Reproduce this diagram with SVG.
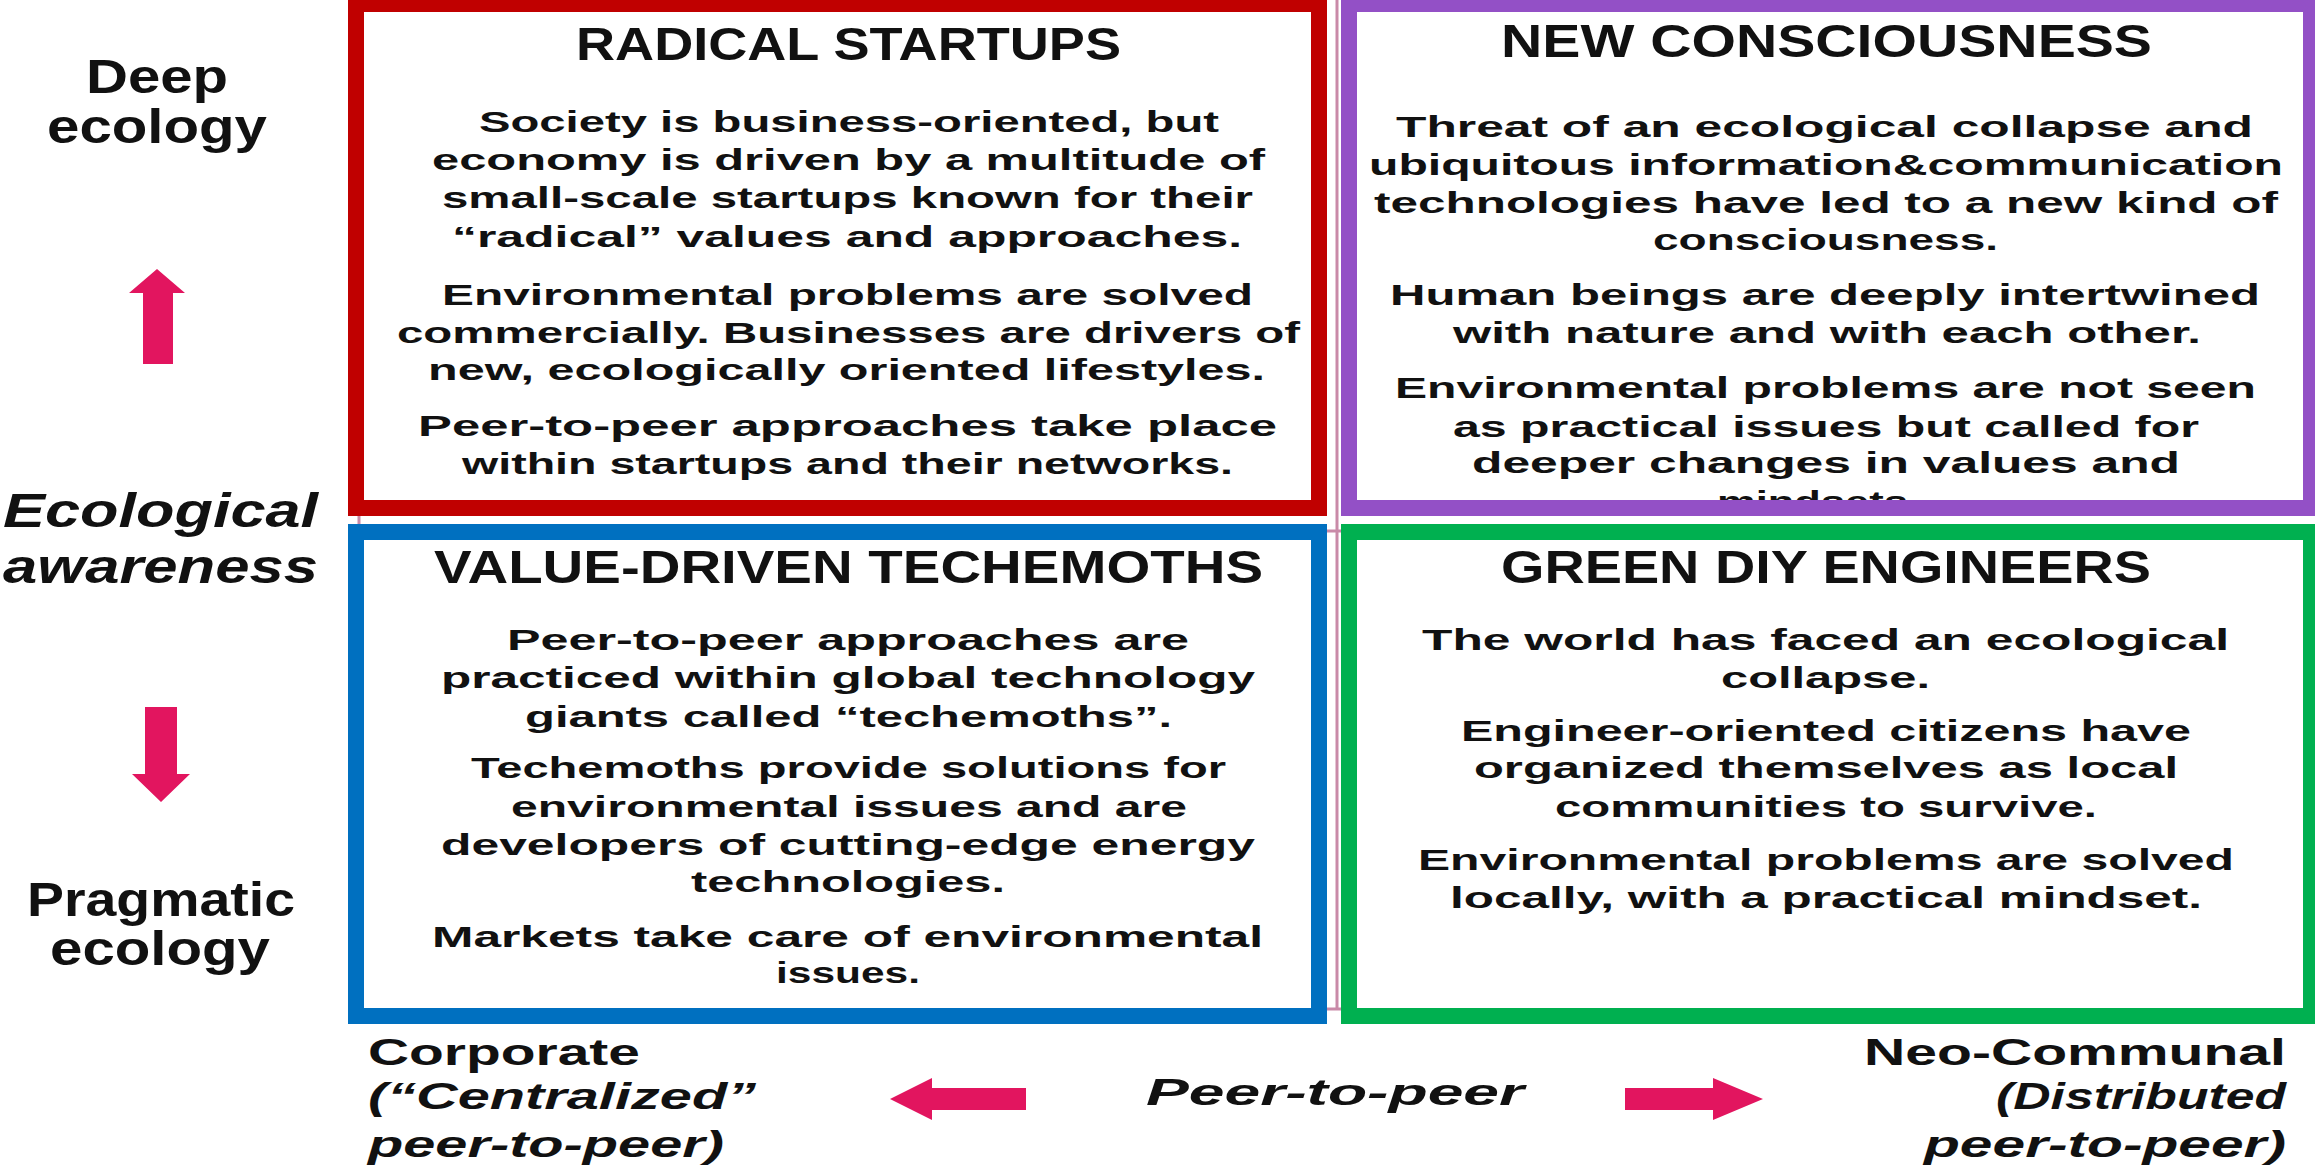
<svg xmlns="http://www.w3.org/2000/svg" width="2315" height="1173" viewBox="0 0 2315 1173">
  <style>
    text { font-family: "Liberation Sans", Arial, sans-serif; font-weight: bold; fill: #111; }
    .title { font-size: 46px; }
    .body { font-size: 30px; }
    .axis { font-size: 48px; }
    .foot { font-size: 37px; }
    .it { font-style: italic; }
    .box { fill: #ffffff; stroke-width: 16; }
    .grid { stroke: #c98aa8; stroke-width: 3; fill: none; }
    .arrow { fill: #e2155f; }
  </style>

  <rect width="2315" height="1173" fill="#ffffff"/>

  <!-- faint quadrant grid behind the boxes -->
  <g id="grid">
    <line class="grid" x1="1337" y1="0" x2="1337" y2="1010"/>
    <line class="grid" x1="359" y1="0" x2="359" y2="1010"/>
    <line class="grid" x1="359" y1="531" x2="2315" y2="531"/>
    <line class="grid" x1="359" y1="1009" x2="2315" y2="1009"/>
  </g>

  <!-- top-left quadrant -->
  <g id="radical-startups">
    <rect class="box" x="356" y="4" width="963" height="504" stroke="#c00000"/>
    <text class="title" x="576" y="60" textLength="545" lengthAdjust="spacingAndGlyphs">RADICAL STARTUPS</text>
    <text class="body" x="479" y="132" textLength="740" lengthAdjust="spacingAndGlyphs">Society is business-oriented, but</text>
    <text class="body" x="432" y="170" textLength="833" lengthAdjust="spacingAndGlyphs">economy is driven by a multitude of</text>
    <text class="body" x="442" y="208" textLength="811" lengthAdjust="spacingAndGlyphs">small-scale startups known for their</text>
    <text class="body" x="452" y="247" textLength="790" lengthAdjust="spacingAndGlyphs">“radical” values and approaches.</text>
    <text class="body" x="442" y="305" textLength="811" lengthAdjust="spacingAndGlyphs">Environmental problems are solved</text>
    <text class="body" x="397" y="343" textLength="903" lengthAdjust="spacingAndGlyphs">commercially. Businesses are drivers of</text>
    <text class="body" x="428" y="380" textLength="837" lengthAdjust="spacingAndGlyphs">new, ecologically oriented lifestyles.</text>
    <text class="body" x="418" y="436" textLength="859" lengthAdjust="spacingAndGlyphs">Peer-to-peer approaches take place</text>
    <text class="body" x="462" y="474" textLength="771" lengthAdjust="spacingAndGlyphs">within startups and their networks.</text>
  </g>

  <!-- top-right quadrant -->
  <g id="new-consciousness">
    <rect x="1349" y="4" width="962" height="504" fill="#ffffff"/>
    <text class="title" x="1501" y="57" textLength="651" lengthAdjust="spacingAndGlyphs">NEW CONSCIOUSNESS</text>
    <text class="body" x="1396" y="137" textLength="857" lengthAdjust="spacingAndGlyphs">Threat of an ecological collapse and</text>
    <text class="body" x="1369" y="175" textLength="914" lengthAdjust="spacingAndGlyphs">ubiquitous information&amp;communication</text>
    <text class="body" x="1374" y="213" textLength="904" lengthAdjust="spacingAndGlyphs">technologies have led to a new kind of</text>
    <text class="body" x="1653" y="250" textLength="345" lengthAdjust="spacingAndGlyphs">consciousness.</text>
    <text class="body" x="1390" y="305" textLength="870" lengthAdjust="spacingAndGlyphs">Human beings are deeply intertwined</text>
    <text class="body" x="1453" y="343" textLength="748" lengthAdjust="spacingAndGlyphs">with nature and with each other.</text>
    <text class="body" x="1395" y="398" textLength="861" lengthAdjust="spacingAndGlyphs">Environmental problems are not seen</text>
    <text class="body" x="1453" y="437" textLength="746" lengthAdjust="spacingAndGlyphs">as practical issues but called for</text>
    <text class="body" x="1472" y="473" textLength="708" lengthAdjust="spacingAndGlyphs">deeper changes in values and</text>
    <text class="body" x="1717" y="512" textLength="203" lengthAdjust="spacingAndGlyphs">mindsets.</text>
    <rect x="1349" y="4" width="962" height="504" fill="none" stroke="#9350c6" stroke-width="16"/>
  </g>

  <!-- bottom-left quadrant -->
  <g id="value-driven-techemoths">
    <rect class="box" x="356" y="532" width="963" height="484" stroke="#0070c0"/>
    <text class="title" x="434" y="583" textLength="829" lengthAdjust="spacingAndGlyphs">VALUE-DRIVEN TECHEMOTHS</text>
    <text class="body" x="507" y="650" textLength="682" lengthAdjust="spacingAndGlyphs">Peer-to-peer approaches are</text>
    <text class="body" x="441" y="688" textLength="814" lengthAdjust="spacingAndGlyphs">practiced within global technology</text>
    <text class="body" x="525" y="727" textLength="647" lengthAdjust="spacingAndGlyphs">giants called “techemoths”.</text>
    <text class="body" x="471" y="778" textLength="755" lengthAdjust="spacingAndGlyphs">Techemoths provide solutions for</text>
    <text class="body" x="511" y="817" textLength="676" lengthAdjust="spacingAndGlyphs">environmental issues and are</text>
    <text class="body" x="441" y="855" textLength="814" lengthAdjust="spacingAndGlyphs">developers of cutting-edge energy</text>
    <text class="body" x="691" y="892" textLength="314" lengthAdjust="spacingAndGlyphs">technologies.</text>
    <text class="body" x="432" y="947" textLength="831" lengthAdjust="spacingAndGlyphs">Markets take care of environmental</text>
    <text class="body" x="776" y="983" textLength="144" lengthAdjust="spacingAndGlyphs">issues.</text>
  </g>

  <!-- bottom-right quadrant -->
  <g id="green-diy-engineers">
    <rect class="box" x="1349" y="532" width="962" height="484" stroke="#00b050"/>
    <text class="title" x="1501" y="583" textLength="650" lengthAdjust="spacingAndGlyphs">GREEN DIY ENGINEERS</text>
    <text class="body" x="1422" y="650" textLength="807" lengthAdjust="spacingAndGlyphs">The world has faced an ecological</text>
    <text class="body" x="1721" y="688" textLength="209" lengthAdjust="spacingAndGlyphs">collapse.</text>
    <text class="body" x="1461" y="741" textLength="730" lengthAdjust="spacingAndGlyphs">Engineer-oriented citizens have</text>
    <text class="body" x="1474" y="778" textLength="704" lengthAdjust="spacingAndGlyphs">organized themselves as local</text>
    <text class="body" x="1555" y="817" textLength="542" lengthAdjust="spacingAndGlyphs">communities to survive.</text>
    <text class="body" x="1418" y="870" textLength="816" lengthAdjust="spacingAndGlyphs">Environmental problems are solved</text>
    <text class="body" x="1450" y="908" textLength="752" lengthAdjust="spacingAndGlyphs">locally, with a practical mindset.</text>
  </g>

  <!-- vertical axis: ecological awareness -->
  <g id="vertical-axis">
    <text class="axis" x="86" y="93" textLength="142" lengthAdjust="spacingAndGlyphs">Deep</text>
    <text class="axis" x="47" y="143" textLength="220" lengthAdjust="spacingAndGlyphs">ecology</text>
    <text class="axis it" x="3" y="527" textLength="315" lengthAdjust="spacingAndGlyphs">Ecological</text>
    <text class="axis it" x="3" y="583" textLength="315" lengthAdjust="spacingAndGlyphs">awareness</text>
    <text class="axis" x="27" y="916" textLength="268" lengthAdjust="spacingAndGlyphs">Pragmatic</text>
    <text class="axis" x="50" y="965" textLength="220" lengthAdjust="spacingAndGlyphs">ecology</text>
  </g>

  <!-- horizontal axis: peer-to-peer -->
  <g id="horizontal-axis">
    <text class="foot" x="368" y="1065" textLength="272" lengthAdjust="spacingAndGlyphs">Corporate</text>
    <text class="foot it" x="368" y="1109" textLength="388" lengthAdjust="spacingAndGlyphs">(“Centralized”</text>
    <text class="foot it" x="368" y="1157" textLength="356" lengthAdjust="spacingAndGlyphs">peer-to-peer)</text>
    <text class="foot it" x="1146" y="1105" textLength="378" lengthAdjust="spacingAndGlyphs">Peer-to-peer</text>
    <text class="foot" x="1864" y="1065" textLength="422" lengthAdjust="spacingAndGlyphs">Neo-Communal</text>
    <text class="foot it" x="1996" y="1109" textLength="290" lengthAdjust="spacingAndGlyphs">(Distributed</text>
    <text class="foot it" x="1924" y="1157" textLength="362" lengthAdjust="spacingAndGlyphs">peer-to-peer)</text>
  </g>

  <!-- block arrows along both axes -->
  <g id="connectors">
    <polygon class="arrow" points="157,269 185,293 173,293 173,364 143,364 143,293 129,293"/>
    <polygon class="arrow" points="145,707 177,707 177,774 190,774 161,802 132,774 145,774"/>
    <polygon class="arrow" points="890,1099 932,1078 932,1088 1026,1088 1026,1110 932,1110 932,1120"/>
    <polygon class="arrow" points="1625,1088 1713,1088 1713,1078 1763,1099 1713,1120 1713,1110 1625,1110"/>
  </g>
</svg>
